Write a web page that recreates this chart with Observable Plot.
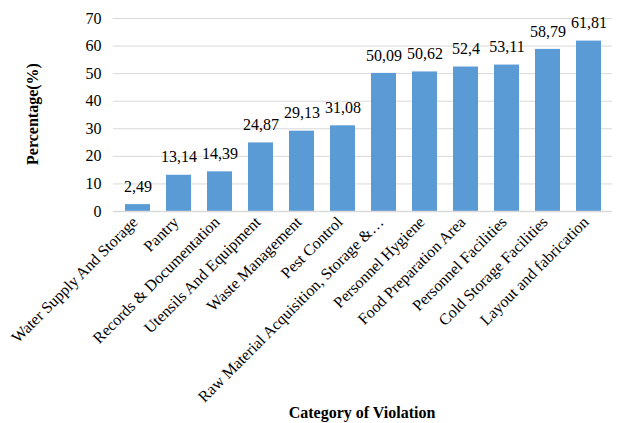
<!DOCTYPE html>
<html><head><meta charset="utf-8">
<script src="https://cdn.jsdelivr.net/npm/d3@7"></script>
<script src="https://cdn.jsdelivr.net/npm/@observablehq/plot@0.6"></script>
<style>body{margin:0;background:#fff;font-family:"Liberation Serif","Times New Roman",serif;} svg text{font-family:"Liberation Serif","Times New Roman",serif !important;}</style>
</head><body><div id="chart"></div>
<script>
const categories = ["Water Supply And Storage","Pantry","Records & Documentation","Utensils And Equipment","Waste Management","Pest Control","Raw Material Acquisition, Storage &…","Personnel Hygiene","Food Preparation Area","Personnel Facilities","Cold Storage Facilities","Layout and fabrication"];
const values = [2.49,13.14,14.39,24.87,29.13,31.08,50.09,50.62,52.4,53.11,58.79,61.81];
const yTicks = [0,10,20,30,40,50,60,70];
const data = categories.map((c,i)=>({cat:c, v:values[i], label:String(values[i]).replace(".",",")}));
const ff = "Liberation Serif";
const chart = Plot.plot({
  width:617, height:423,
  marginLeft:113, marginRight:5, marginTop:18, marginBottom:212,
  style:{fontFamily:ff, fontSize:"16px", color:"#000", background:"#fff"},
  x:{domain:categories, paddingInner:0.4, paddingOuter:0.2, label:null},
  y:{domain:[0,70], ticks:yTicks, label:null},
  marks:[
    Plot.gridY(yTicks.filter(t=>t>0), {stroke:"#d9d9d9", strokeOpacity:1, strokeWidth:1}),
    Plot.barY(data, {x:"cat", y:"v", fill:"#5b9bd5"}),
    Plot.ruleY([0], {stroke:"#d9d9d9", strokeWidth:1.5}),
    Plot.text(data, {x:"cat", y:"v", text:"label", dy:-18, fontSize:16, fontFamily:ff, fill:"#000"}),
    Plot.axisX({tickSize:0, tickRotate:-45, tickPadding:8, dx:-3, fontSize:16, fontFamily:ff, label:null}),
    Plot.axisY({ticks:yTicks, tickSize:0, tickPadding:12, fontSize:16, fontFamily:ff, label:null})
  ]
});
document.getElementById("chart").appendChild(chart);
const svg = d3.select(chart);
svg.append("text").attr("transform","translate(38,114) rotate(-90)").attr("text-anchor","middle")
  .attr("font-weight","bold").attr("font-size",16).attr("fill","#000").text("Percentage(%)");
svg.append("text").attr("x",362).attr("y",418).attr("text-anchor","middle")
  .attr("font-weight","bold").attr("font-size",16).attr("fill","#000").text("Category of Violation");
</script></body></html>
